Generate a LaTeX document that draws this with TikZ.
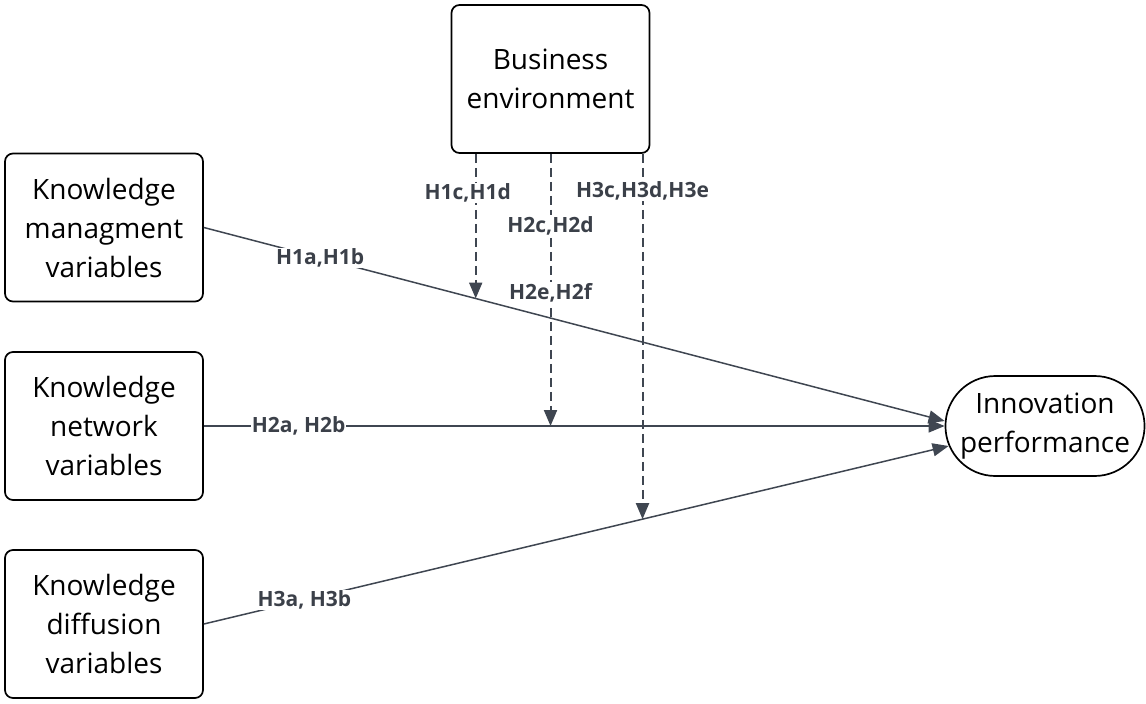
\documentclass[tikz,border=0pt]{standalone}
\usepackage{fontspec}
\setmainfont{Open Sans}
\usetikzlibrary{arrows.meta,shapes.misc}

\definecolor{edgegray}{HTML}{3F4651}
\definecolor{labgray}{HTML}{3B4049}

\tikzset{
  varbox/.style={draw, line width=1.7pt, rounded corners=8pt, minimum width=198pt,
    minimum height=148pt, align=center, font=\fontsize{28}{39}\selectfont},
  outbox/.style={draw, line width=1.7pt, rounded rectangle, minimum width=197pt,
    minimum height=100pt, inner xsep=2pt, align=center, font=\fontsize{28}{39}\selectfont},
  arr/.style={edgegray, line width=1.5pt, -{Triangle[length=16pt,width=13pt]}},
  modarr/.style={arr, line width=2pt, dash pattern=on 9pt off 5pt},
  hyp/.style={fill=white, text=labgray, inner sep=1pt, font=\bfseries\fontsize{21}{21}\selectfont},
}

\begin{document}
\begin{tikzpicture}[x=1pt, y=-1pt]
\useasboundingbox (0,0) rectangle (1146,704);

\node[varbox] (be) at (550.5,79) {Business\\environment};
\node[varbox] (km) at (104,227.5) {Knowledge\\managment\\variables};
\node[varbox] (kn) at (104,426) {Knowledge\\network\\variables};
\node[varbox] (kd) at (104,624) {Knowledge\\diffusion\\variables};
\node[outbox] (ip) at (1045,426) {Innovation\\performance};

% direct effects
\draw[arr] (km.east) -- coordinate[pos=0.367] (t1) node[hyp, pos=0.157] {H1a,H1b} ([yshift=5pt]ip.west);
\draw[arr] (kn.east) -- coordinate[pos=0.468] (t2) node[hyp, pos=0.128] {H2a, H2b} (ip.west);
\draw[arr] (kd.east) -- coordinate[pos=0.589] (t3) node[hyp, pos=0.135] {H3a, H3b} ([yshift=-20pt,xshift=4pt]ip.west);

% moderation by the business environment
\draw[modarr] (be.south -| t1) -- node[hyp, pos=0.27, xshift=-8pt] {H1c,H1d} (t1);
\draw[modarr] (be.south -| t2) -- node[hyp, pos=0.264] {H2c,H2d} node[hyp, pos=0.509] {H2e,H2f} (t2);
\draw[modarr] (be.south -| t3) -- node[hyp, pos=0.10] {H3c,H3d,H3e} (t3);

\end{tikzpicture}
\end{document}
